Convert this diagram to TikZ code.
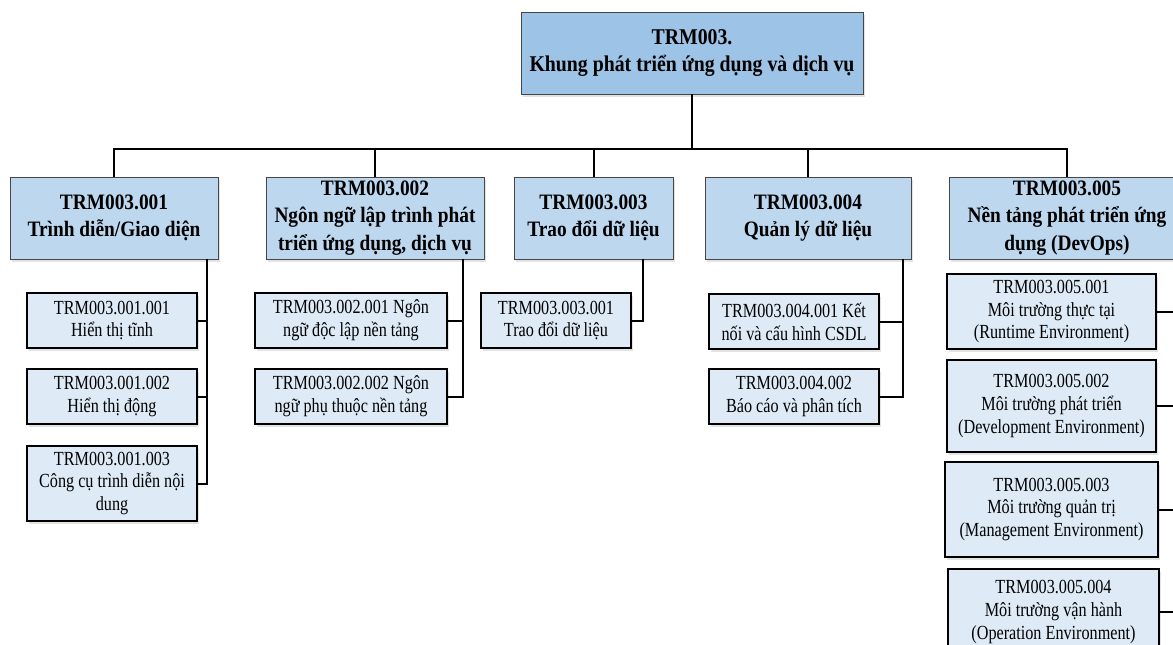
\documentclass[tikz,border=0pt]{standalone}
\usepackage{fontspec}
\setmainfont{Liberation Serif}[FakeStretch=0.81,BoldFeatures={FakeStretch=0.88}]
\usetikzlibrary{shadows}
\definecolor{rootfill}{RGB}{157,195,230}
\definecolor{midfill}{RGB}{189,215,238}
\definecolor{leaffill}{RGB}{222,235,247}
\definecolor{edgegray}{RGB}{70,70,70}
\tikzset{
  boxshadow/.style={drop shadow={shadow xshift=1.5pt,shadow yshift=-2.5pt,opacity=0.22,fill=gray}},
  rootbox/.style={draw=edgegray,line width=0.9pt,fill=rootfill,boxshadow,align=center,inner sep=0pt,
    font=\fontsize{22.5}{27.5}\selectfont\bfseries},
  midbox/.style={draw=edgegray,line width=0.9pt,fill=midfill,boxshadow,align=center,inner sep=0pt,
    minimum height=82pt,font=\fontsize{22}{27.5}\selectfont\bfseries},
  leafbox/.style={draw=black,line width=1.4pt,fill=leaffill,boxshadow,align=center,inner sep=0pt,
    font=\fontsize{20}{22.8}\selectfont},
  bus/.style={line width=2.6pt,black},
  conn/.style={line width=2pt,black},
}
\begin{document}
\begin{tikzpicture}[x=1pt,y=-1pt]
\useasboundingbox (0,0) rectangle (1173,645);
% root
\node[rootbox,minimum width=342pt,minimum height=82pt] (root) at (692,53) {TRM003.\\Khung phát triển ứng dụng và dịch vụ};
% level 1
\node[midbox,minimum width=208pt] (b1) at (114,218) {TRM003.001\\Trình diễn/Giao diện};
\node[midbox,minimum width=218pt] (b2) at (375,218) {TRM003.002\\Ngôn ngữ lập trình phát\\triển ứng dụng, dịch vụ};
\node[midbox,minimum width=159pt] (b3) at (593.5,218) {TRM003.003\\Trao đổi dữ liệu};
\node[midbox,minimum width=206pt] (b4) at (808,218) {TRM003.004\\Quản lý dữ liệu};
\node[midbox,minimum width=236pt] (b5) at (1067,218) {TRM003.005\\Nền tảng phát triển ứng\\dụng (DevOps)};
% level 2
\node[leafbox,minimum width=170pt,minimum height=55pt] (c11) at (112,320.5) {TRM003.001.001\\Hiển thị tĩnh};
\node[leafbox,minimum width=170pt,minimum height=55pt] (c12) at (112,396.5) {TRM003.001.002\\Hiển thị động};
\node[leafbox,minimum width=170pt,minimum height=75pt] (c13) at (112,483.5) {TRM003.001.003\\Công cụ trình diễn nội\\dung};
\node[leafbox,minimum width=192pt,minimum height=55pt] (c21) at (351,320.5) {TRM003.002.001 Ngôn\\ngữ độc lập nền tảng};
\node[leafbox,minimum width=192pt,minimum height=55pt] (c22) at (351,396.5) {TRM003.002.002 Ngôn\\ngữ phụ thuộc nền tảng};
\node[leafbox,minimum width=150pt,minimum height=55pt] (c31) at (556,320.5) {TRM003.003.001\\Trao đổi dữ liệu};
\node[leafbox,minimum width=170pt,minimum height=55pt] (c41) at (794,321.5) {TRM003.004.001 Kết\\nối và cấu hình CSDL};
\node[leafbox,minimum width=170pt,minimum height=55pt] (c42) at (794,396.5) {TRM003.004.002\\Báo cáo và phân tích};
\node[leafbox,minimum width=209pt,minimum height=75pt] (c51) at (1051.5,311.5) {TRM003.005.001\\Môi trường thực tại\\(Runtime Environment)};
\node[leafbox,minimum width=209pt,minimum height=92pt] (c52) at (1051.5,406) {TRM003.005.002\\Môi trường phát triển\\(Development Environment)};
\node[leafbox,minimum width=213pt,minimum height=95pt] (c53) at (1051.5,509.5) {TRM003.005.003\\Môi trường quản trị\\(Management Environment)};
\node[leafbox,minimum width=211pt,minimum height=86pt] (c54) at (1053.5,612) {TRM003.005.004\\Môi trường vận hành\\(Operation Environment)};
% bus
\coordinate (busy) at (0,149);
\draw[bus] (root.south) -- (root.south |- busy);
\draw[bus,line cap=rect] (b1.north |- busy) -- (b5.north |- busy);
\foreach \b in {b1,b2,b3,b4,b5} \draw[conn] (\b.north |- busy) -- (\b.north);
% child connectors
\coordinate (j1) at (207,0);
\coordinate (j2) at (463,0);
\coordinate (j3) at (643,0);
\coordinate (j4) at (903,0);
\coordinate (j5) at (1181,0);
\draw[conn] (b1.south -| j1) |- (c13.east);
\draw[conn] (c11.east) -- (c11.east -| j1);
\draw[conn] (c12.east) -- (c12.east -| j1);
\draw[conn] (b2.south -| j2) |- (c22.east);
\draw[conn] (c21.east) -- (c21.east -| j2);
\draw[conn] (b3.south -| j3) |- (c31.east);
\draw[conn] (b4.south -| j4) |- (c42.east);
\draw[conn] (c41.east) -- (c41.east -| j4);
\draw[conn] (b5.south -| j5) |- (c54.east);
\draw[conn] (c51.east) -- (c51.east -| j5);
\draw[conn] (c52.east) -- (c52.east -| j5);
\draw[conn] (c53.east) -- (c53.east -| j5);
\end{tikzpicture}
\end{document}
